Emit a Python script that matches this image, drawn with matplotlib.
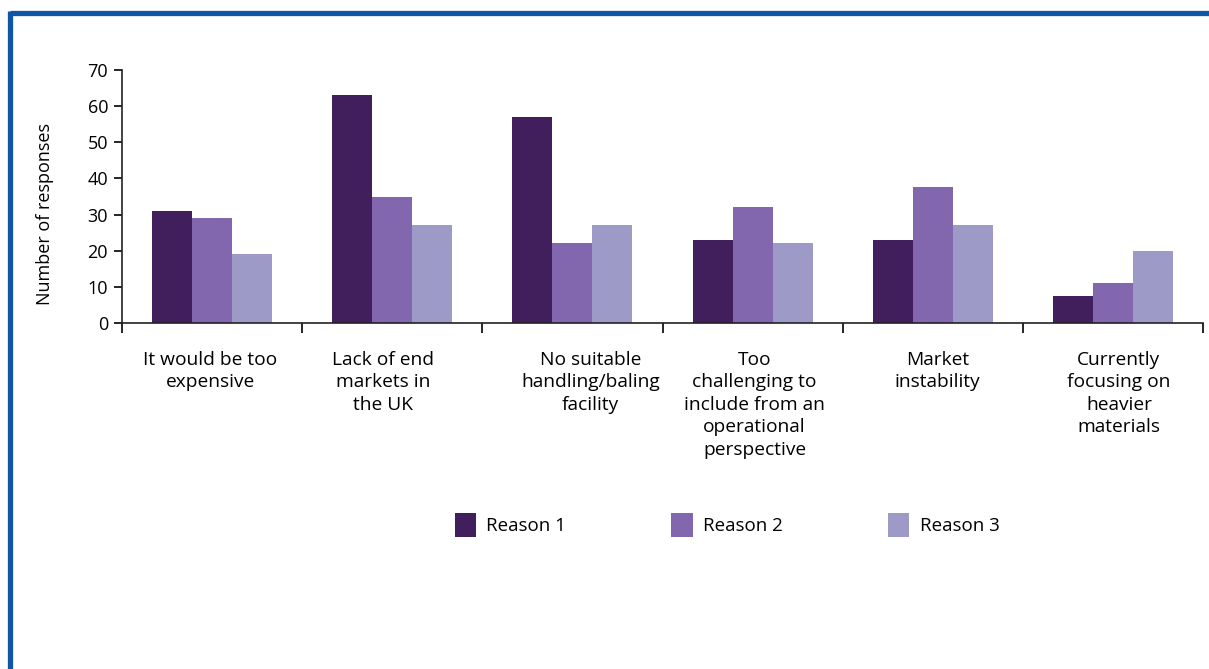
import matplotlib.pyplot as plt
import matplotlib.transforms as mtransforms
import numpy as np
from matplotlib.lines import Line2D

plt.rcParams['font.family'] = ['Open Sans', 'DejaVu Sans']

# survey answers per reason
categories = ["It would be too\nexpensive",
              "Lack of end\nmarkets in\nthe UK",
              "No suitable\nhandling/baling\nfacility",
              "Too\nchallenging to\ninclude from an\noperational\nperspective",
              "Market\ninstability",
              "Currently\nfocusing on\nheavier\nmaterials"]
reason1 = [31, 63, 57, 23, 23, 7.5]
reason2 = [29, 35, 22, 32, 37.5, 11]
reason3 = [19, 27, 27, 22, 27, 20]
series_names = ["Reason 1", "Reason 2", "Reason 3"]
colors = ["#401f5c", "#8267ae", "#9d9ac8"]

# horizontal nudge (px) for each wrapped category label
label_shift = [-2, -9, 18, 2, 5, 6]

fig = plt.figure(figsize=(12.09, 6.69), dpi=100)
ax = fig.add_axes([122 / 1209, 1 - 323 / 669, (1203 - 122) / 1209, (323 - 70) / 669])

x = np.arange(len(categories))
w = 0.222
bars = []
for i, (vals, name, c) in enumerate(zip([reason1, reason2, reason3], series_names, colors)):
    bars.append(ax.bar(x + (i - 1) * w, vals, width=w, color=c, label=name))

ax.set_xlim(-0.5, len(categories) - 0.5)
ax.set_ylim(0, 70)
ax.set_yticks(range(0, 71, 10))
ax.tick_params(axis='y', labelsize=13, length=6, width=1.2, pad=4)

# category boundary ticks, labels sit at centres
ax.set_xticks(np.arange(-0.5, len(categories)), minor=False)
ax.set_xticklabels([])
ax.tick_params(axis='x', length=7, width=1.2, direction='out')
ax.set_xticks(x, minor=True)
ax.set_xticklabels(categories, minor=True, fontsize=13.8, linespacing=1.32, va='top')
ax.tick_params(axis='x', which='minor', length=0, pad=20)
for lbl, dx in zip(ax.get_xticklabels(minor=True), label_shift):
    lbl.set_transform(lbl.get_transform() + mtransforms.ScaledTranslation(dx / 100, 0, fig.dpi_scale_trans))

for side in ['top', 'right']:
    ax.spines[side].set_visible(False)
for side in ['left', 'bottom']:
    ax.spines[side].set_linewidth(1.2)
    ax.spines[side].set_color('#222222')

ax.set_ylabel("Number of responses", fontsize=13)
ax.yaxis.set_label_coords(-0.063, 0.43)

fig.legend(handles=[b[0] for b in bars], labels=series_names, loc='center',
           bbox_to_anchor=(727 / 1209, 1 - 525 / 669), ncol=3, frameon=False,
           fontsize=13.5, handlelength=1.15, handleheight=1.6, handletextpad=0.55,
           columnspacing=5.6)

# blue frame along top and left edges
fig.add_artist(Line2D([9.5 / 1209, 1], [1 - 13 / 669, 1 - 13 / 669],
                      transform=fig.transFigure, color='#0f56a6', lw=3.8, solid_capstyle='butt'))
fig.add_artist(Line2D([9.5 / 1209, 9.5 / 1209], [0, 1 - 11 / 669],
                      transform=fig.transFigure, color='#0f56a6', lw=3.8, solid_capstyle='butt'))

fig.savefig("out.png", dpi=100)
